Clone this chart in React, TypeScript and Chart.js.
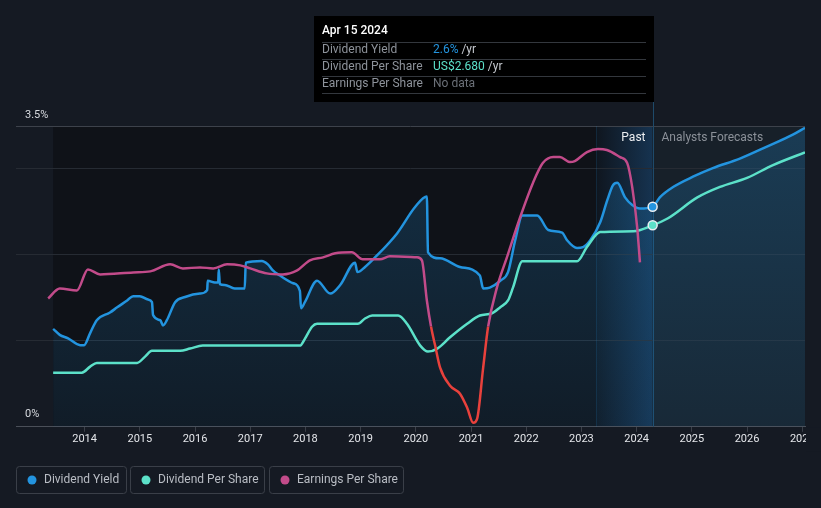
import { useEffect, useRef } from "react";
import { Chart, registerables } from "chart.js";

Chart.register(...registerables);

// ---------- data ----------
const yieldYears = [
  2013.43, 2013.55, 2013.7, 2013.92, 2013.99, 2014.1, 2014.22, 2014.46, 2014.59, 2014.77, 2014.88, 2015.0,
  2015.15, 2015.22, 2015.24, 2015.37, 2015.42, 2015.49, 2015.64, 2015.82, 2016.09, 2016.22, 2016.23, 2016.36,
  2016.42, 2016.43, 2016.45, 2016.54, 2016.72, 2016.9, 2016.92, 2017.21, 2017.32, 2017.41, 2017.54, 2017.78,
  2017.9, 2017.92, 2017.99, 2018.21, 2018.45, 2018.63, 2018.9, 2018.94, 2019.08, 2019.26, 2019.66, 2019.99,
  2020.2, 2020.22, 2020.44, 2020.8, 2021.16, 2021.22, 2021.34, 2021.53, 2021.67, 2021.8, 2021.93, 2022.2,
  2022.4, 2022.65, 2022.74, 2022.92, 2023.03, 2023.16, 2023.34, 2023.47, 2023.57, 2023.65, 2023.79, 2023.92,
  2024.06, 2024.29,
];
const yieldValues = [
  1.14, 1.07, 1.03, 0.95, 0.95, 1.09, 1.24, 1.33, 1.39, 1.47, 1.52, 1.52,
  1.48, 1.45, 1.3, 1.24, 1.18, 1.24, 1.45, 1.51, 1.55, 1.59, 1.7, 1.68,
  1.68, 1.83, 1.66, 1.65, 1.61, 1.61, 1.91, 1.93, 1.89, 1.82, 1.76, 1.67,
  1.58, 1.38, 1.45, 1.7, 1.55, 1.65, 1.91, 1.8, 1.86, 1.97, 2.25, 2.56,
  2.68, 2.03, 1.96, 1.86, 1.76, 1.61, 1.62, 1.7, 1.8, 2.17, 2.46, 2.46,
  2.29, 2.26, 2.17, 2.08, 2.09, 2.17, 2.38, 2.64, 2.81, 2.84, 2.67, 2.58,
  2.54, 2.56,
];
const yieldForecastYears = [2024.42, 2024.66, 2025.02, 2025.38, 2025.87, 2026.36, 2026.83, 2027.05];
const yieldForecastValues = [2.67, 2.79, 2.91, 3.01, 3.12, 3.26, 3.4, 3.48];

const dpsYears = [
  2013.43, 2013.95, 2014.1, 2014.22, 2014.95, 2015.09, 2015.22, 2015.73, 2015.91, 2016.14, 2017.9, 2017.99,
  2018.12, 2018.21, 2018.95, 2019.08, 2019.21, 2019.68, 2019.84, 2020.08, 2020.22, 2020.39, 2020.62, 2020.93,
  2021.16, 2021.38, 2021.53, 2021.67, 2021.76, 2021.93, 2022.92, 2023.1, 2023.34, 2023.94, 2024.29,
];
const dpsValues = [
  0.72, 0.72, 0.8, 0.85, 0.85, 0.93, 1.01, 1.01, 1.04, 1.08, 1.08, 1.17,
  1.33, 1.37, 1.37, 1.44, 1.48, 1.48, 1.37, 1.08, 1.0, 1.04, 1.19, 1.37,
  1.48, 1.51, 1.59, 1.68, 1.85, 2.2, 2.2, 2.39, 2.59, 2.6, 2.68,
];
const dpsForecastYears = [2024.56, 2025.1, 2025.51, 2026.0, 2026.47, 2027.05];
const dpsForecastValues = [2.77, 3.05, 3.19, 3.31, 3.48, 3.65];

const epsYears = [
  2013.34, 2013.55, 2013.86, 2014.06, 2014.28, 2014.88, 2015.19, 2015.55, 2015.78, 2016.09, 2016.33, 2016.58,
  2016.82, 2017.0, 2017.3, 2017.59, 2017.85, 2018.08, 2018.32, 2018.54, 2018.84, 2019.04, 2019.35, 2019.53,
  2020.02, 2020.11, 2020.2, 2020.275, 2020.35, 2020.44, 2020.62, 2020.8, 2020.93, 2021.04, 2021.11, 2021.22,
  2021.31, 2021.47, 2021.65, 2021.89, 2022.12, 2022.3, 2022.49, 2022.61, 2022.79, 2022.88, 2023.1, 2023.3,
  2023.46, 2023.7, 2023.83, 2023.92, 2024.01, 2024.06,
];
const epsValues = [
  0.56, 0.76, 0.72, 1.14, 1.04, 1.08, 1.1, 1.24, 1.16, 1.18, 1.16, 1.24,
  1.22, 1.16, 1.06, 1.04, 1.12, 1.32, 1.38, 1.46, 1.48, 1.34, 1.34, 1.4,
  1.38, 1.32, 0.52, 0.0, -0.38, -0.82, -1.18, -1.34, -1.62, -1.92, -1.84, -0.82,
  0.0, 0.78, 1.38, 2.18, 2.86, 3.26, 3.38, 3.38, 3.28, 3.3, 3.48, 3.54,
  3.52, 3.38, 3.26, 2.78, 1.98, 1.28,
];

const xTickYears = [2014, 2015, 2016, 2017, 2018, 2019, 2020, 2021, 2022, 2023, 2024, 2025, 2026, 2027];
const yTickValues = [0, 1, 2, 3, 3.5];
const yLabelTop = "3.5%";
const yLabelBottom = "0%";
const bandStart = 2023.27;
const forecastStart = 2024.29;

const tooltipTitle = "Apr 15 2024";
const tooltipLabels = ["Dividend Yield", "Dividend Per Share", "Earnings Per Share"];
const tooltipValues = ["2.6%", "US$2.680", "No data"];
const tooltipUnits = [" /yr", " /yr", ""];
const legendLabels = ["Dividend Yield", "Dividend Per Share", "Earnings Per Share"];
const pastLabel = "Past";
const forecastLabel = "Analysts Forecasts";

// ---------- styles ----------
const BLUE = "#2394df";
const TEAL = "#5ce1c9";
const PINK = "#c24b8a";
const RED = "#e8413c";
const BG = "#151a23";
const FONT = "Roboto, 'Noto Sans', sans-serif";

const toPoints = (xs: number[], ys: number[]) => xs.map((x, i) => ({ x, y: ys[i] }));

export default function App() {
  const ref = useRef<HTMLCanvasElement | null>(null);

  useEffect(() => {
    const canvas = ref.current;
    if (!canvas) return;

    const bgPlugin = {
      id: "bgPlugin",
      beforeDraw(chart: any) {
        const { ctx, chartArea: a, scales } = chart;
        const x = scales.x;
        ctx.save();
        ctx.fillStyle = BG;
        ctx.fillRect(0, 0, chart.width, chart.height);
        const xs = x.getPixelForValue(yieldYears[0]);
        const xb = x.getPixelForValue(bandStart);
        const xf = x.getPixelForValue(forecastStart);
        ctx.fillStyle = "#0f1218";
        ctx.fillRect(xs, a.top, xb - xs, a.bottom - a.top);
        const g = ctx.createLinearGradient(xb, 0, xf, 0);
        g.addColorStop(0, "#0f161f");
        g.addColorStop(1, "#163350");
        ctx.fillStyle = g;
        ctx.fillRect(xb, a.top, xf - xb, a.bottom - a.top);
        ctx.fillStyle = "#172029";
        ctx.fillRect(xf, a.top, a.right - xf, a.bottom - a.top);
        ctx.restore();
      },
      beforeDatasetsDraw(chart: any) {
        const { ctx, chartArea: a, scales } = chart;
        const x = scales.x;
        const lx = Math.round(x.getPixelForValue(forecastStart)) + 0.5;
        const xb = Math.round(x.getPixelForValue(bandStart)) + 0.5;
        ctx.save();
        ctx.lineWidth = 1;
        ctx.strokeStyle = "rgba(35,148,223,0.15)";
        ctx.beginPath();
        ctx.moveTo(xb, a.top);
        ctx.lineTo(xb, a.bottom);
        ctx.stroke();
        ctx.strokeStyle = "#1e4a6a";
        ctx.beginPath();
        ctx.moveTo(lx, 101);
        ctx.lineTo(lx, a.bottom);
        ctx.stroke();
        ctx.restore();
      },
    };

    const overlayPlugin = {
      id: "overlayPlugin",
      afterDraw(chart: any) {
        const { ctx, chartArea: a, scales } = chart;
        const x = scales.x;
        const y = scales.y;
        const lx = Math.round(x.getPixelForValue(forecastStart)) + 0.5;
        ctx.save();

        // the reference crops the last tick label at the plot's right edge
        ctx.fillStyle = BG;
        ctx.fillRect(a.right + 1, a.bottom + 1, chart.width - a.right, 24);

        ctx.fillStyle = "#d8dbe0";
        ctx.font = `11px ${FONT}`;
        ctx.textBaseline = "middle";
        ctx.textAlign = "left";
        ctx.fillText(yLabelTop, 25, y.getPixelForValue(3.5) - 11);
        ctx.fillText(yLabelBottom, 25, y.getPixelForValue(0) - 13);

        ctx.font = `12px ${FONT}`;
        ctx.textAlign = "right";
        ctx.fillStyle = "#eceef1";
        ctx.fillText(pastLabel, lx - 8, a.top + 12);
        ctx.textAlign = "left";
        ctx.fillStyle = "#8c9199";
        ctx.fillText(forecastLabel, lx + 8, a.top + 12);

        const bw = 340;
        const bx = lx + 0.5 - bw;
        ctx.fillStyle = "#000000";
        ctx.fillRect(bx, 16, bw, 86);
        ctx.fillStyle = "#ffffff";
        ctx.font = `500 12px ${FONT}`;
        ctx.fillText(tooltipTitle, bx + 8, 31);
        const seps = [42, 59, 76, 93];
        ctx.strokeStyle = "#33373d";
        ctx.lineWidth = 1;
        seps.forEach((sy) => {
          ctx.beginPath();
          ctx.moveTo(bx + 8, sy + 0.5);
          ctx.lineTo(bx + bw - 8, sy + 0.5);
          ctx.stroke();
        });
        const rowY = [50, 67, 84];
        const valColors = [BLUE, TEAL, "#6b7078"];
        ctx.font = `12px ${FONT}`;
        tooltipLabels.forEach((lab, i) => {
          ctx.fillStyle = "#8e939b";
          ctx.fillText(lab, bx + 8, rowY[i]);
          ctx.fillStyle = valColors[i];
          ctx.fillText(tooltipValues[i], bx + 119, rowY[i]);
          const w = ctx.measureText(tooltipValues[i]).width;
          ctx.fillStyle = "#c4c8ce";
          ctx.fillText(tooltipUnits[i], bx + 119 + w, rowY[i]);
        });

        const boxes = [
          [16, 110],
          [130, 134],
          [269, 134],
        ];
        const colors = [BLUE, TEAL, PINK];
        ctx.font = `12px ${FONT}`;
        legendLabels.forEach((lab, i) => {
          const [lx0, w] = boxes[i];
          ctx.strokeStyle = "#3a3f48";
          ctx.lineWidth = 1;
          ctx.beginPath();
          (ctx as any).roundRect(lx0 + 0.5, 466.5, w, 27, 3);
          ctx.stroke();
          ctx.fillStyle = colors[i];
          ctx.beginPath();
          ctx.arc(lx0 + 16, 480, 4.5, 0, Math.PI * 2);
          ctx.fill();
          ctx.fillStyle = "#b9bdc4";
          ctx.fillText(lab, lx0 + 28, 480);
        });
        ctx.restore();
      },
    };

    const chart = new Chart(canvas, {
      type: "line",
      data: {
        datasets: [
          {
            label: "Earnings Per Share",
            data: toPoints(epsYears, epsValues),
            yAxisID: "yEps",
            borderColor: PINK,
            borderWidth: 2.5,
            pointRadius: 0,
            cubicInterpolationMode: "monotone",
            fill: false,
            segment: {
              borderColor: (c: any) => (c.p0.parsed.y < 0 || c.p1.parsed.y < 0 ? RED : PINK),
            },
          },
          {
            label: "Dividend Per Share",
            data: toPoints(dpsYears.concat(dpsForecastYears), dpsValues.concat(dpsForecastValues)),
            yAxisID: "yDps",
            borderColor: TEAL,
            borderWidth: 2.5,
            cubicInterpolationMode: "monotone",
            fill: false,
            pointRadius: (c: any) => (c.raw && c.raw.x === forecastStart ? 4.5 : 0),
            pointBackgroundColor: TEAL,
            pointBorderColor: "#e8eef2",
            pointBorderWidth: 1.5,
          },
          {
            label: "Dividend Yield",
            data: toPoints(yieldYears.concat(yieldForecastYears), yieldValues.concat(yieldForecastValues)),
            yAxisID: "y",
            borderColor: BLUE,
            borderWidth: 2.5,
            cubicInterpolationMode: "monotone",
            pointRadius: (c: any) => (c.raw && c.raw.x === forecastStart ? 4.5 : 0),
            pointBackgroundColor: BLUE,
            pointBorderColor: "#e8eef2",
            pointBorderWidth: 1.5,
            fill: "origin",
            backgroundColor: (c: any) => {
              const a = c.chart.chartArea;
              if (!a) return "rgba(35,148,223,0.15)";
              const g = c.chart.ctx.createLinearGradient(0, a.top, 0, a.bottom);
              g.addColorStop(0, "rgba(35,148,223,0.24)");
              g.addColorStop(1, "rgba(35,148,223,0.08)");
              return g;
            },
          },
        ],
      },
      options: {
        animation: false,
        responsive: false,
        events: [],
        layout: { padding: { left: 16, right: 16, top: 126, bottom: 61 } },
        plugins: { legend: { display: false }, tooltip: { enabled: false } },
        scales: {
          x: {
            type: "linear",
            min: 2012.757,
            max: 2027.05,
            afterBuildTicks: (s: any) => {
              s.ticks = xTickYears.map((v) => ({ value: v }));
            },
            ticks: {
              color: "#e4e6ea",
              font: { family: FONT, size: 11 },
              padding: 1,
              autoSkip: false,
              maxRotation: 0,
              callback: (v: any) => String(v),
            },
            grid: { drawOnChartArea: false, drawTicks: true, tickLength: 5, color: "#3a3f48" },
            border: { display: true, color: "#4a4f58" },
          },
          y: {
            type: "linear",
            min: 0,
            max: 3.5,
            afterBuildTicks: (s: any) => {
              s.ticks = yTickValues.map((v) => ({ value: v }));
            },
            ticks: { display: false },
            grid: {
              drawTicks: false,
              color: (c: any) =>
                c.tick.value === 3.5 ? "#3d424b" : c.tick.value === 0 ? "rgba(0,0,0,0)" : "#262b33",
            },
            border: { display: false },
          },
          yDps: { type: "linear", min: 0, max: 4, display: false },
          yEps: { type: "linear", min: -2, max: 4, display: false },
        },
      },
      plugins: [bgPlugin, overlayPlugin],
    } as any);

    return () => chart.destroy();
  }, []);

  return (
    <div style={{ position: "fixed", left: 0, top: 0, width: 821, height: 508, background: BG }}>
      <canvas ref={ref} width={821} height={508} style={{ display: "block", width: 821, height: 508 }} />
    </div>
  );
}
